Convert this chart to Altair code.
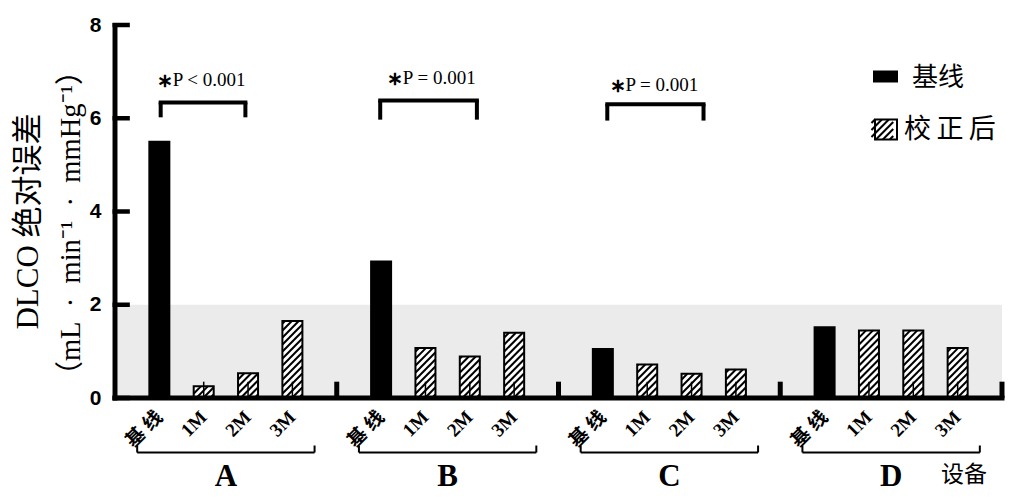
import altair as alt
import pandas as pd

# ---------------- data ----------------
groups = ["A", "B", "C", "D"]
time_labels = ["基 线", "1M", "2M", "3M"]
kinds = ["基线", "校正后", "校正后", "校正后"]
vals_A = [5.52, 0.25, 0.53, 1.65]
vals_B = [2.95, 1.07, 0.89, 1.40]
vals_C = [1.07, 0.72, 0.52, 0.61]
vals_D = [1.54, 1.45, 1.45, 1.07]
y_ticks = [0, 2, 4, 6, 8]
band = [0, 2]
err_top = 0.35
sep_height = 0.35
sig_labels = ["P < 0.001", "P = 0.001", "P = 0.001"]
sig_x1 = [1.03, 5.98, 11.10]
sig_x2 = [2.94, 8.16, 13.27]
sig_top = [6.34, 6.38, 6.30]
sig_bot = [6.02, 5.97, 5.95]
sig_tx = [0.94, 6.13, 11.15]
sig_ty = [6.81, 6.87, 6.72]
legend_labels = ["基线", "校\u2009正\u2009后"]
x_title = "设备"
y_title = ["DLCO 绝对误差", "（mL\u2002·\u2002min⁻¹\u2002·\u2002mmHg⁻¹）"]

# ---------------- layout ----------------
W, H = 897, 373
XMAX, YMAX = 20, 8
SX = W / XMAX
SY = H / YMAX
SP = 7.0
TICK_LEN = 15
TICK_W = 4.5
SERIF = "Liberation Serif, Times New Roman, Noto Sans CJK SC"
SANS = "Liberation Sans, Arial, sans-serif"
CJK = "Noto Sans CJK SC"

rows = []
for gi, vals in enumerate([vals_A, vals_B, vals_C, vals_D]):
    for i, v in enumerate(vals):
        rows.append(dict(group=groups[gi], label=time_labels[i], kind=kinds[i],
                         pos=gi * 5 + i + 1, value=v, e0=0.0, e1=err_top))
bars = pd.DataFrame(rows)
corr = bars[bars.kind != "基线"]


def hatch(xl, xr, vb, vt):
    w = xr - xl
    h = vt - vb
    segs = []
    k = -w + SP / 2
    while k < h:
        xs = max(0.0, -k)
        xe = min(w, h - k)
        if xe - xs > 0.6:
            segs.append(((xl + xs) / SX, (vb + xs + k) / SY, (xl + xe) / SX, (vb + xe + k) / SY))
        k += SP
    return segs


segs = []
for _, r in corr.iterrows():
    cx = r.pos * SX
    segs += hatch(cx - 10, cx + 10, 0, r.value * SY)
# legend hatched square (pixel box)
LGX1, LGX2, LGY1, LGY2 = 765, 787, 94.5, 114.5
segs += hatch(LGX1, LGX2, H - LGY2, H - LGY1)
hatch_df = pd.DataFrame(segs, columns=["x", "y", "x2", "y2"])

# tick rectangles (derived from tick values)
tick_df = pd.DataFrame({
    "x0": [-2.5 / SX] * len(y_ticks),
    "x1": [TICK_LEN / SX] * len(y_ticks),
    "y0": [t - TICK_W / 2 / SY for t in y_ticks],
    "y1": [t + TICK_W / 2 / SY for t in y_ticks],
})

XS = alt.Scale(domain=[0, XMAX], nice=False, zero=False)
YS = alt.Scale(domain=[0, YMAX], nice=False, zero=True)
YAX = alt.Axis(values=y_ticks, title=None, domain=False, ticks=False, grid=False,
               labelFont=SANS, labelFontWeight="bold", labelFontSize=21,
               labelColor="black", labelPadding=9)


def X(f):
    return alt.X(f, scale=XS, axis=None)


def Y(f):
    return alt.Y(f, scale=YS, axis=YAX)


one = pd.DataFrame({"k": [0]})

band_layer = alt.Chart(pd.DataFrame({"x": [0], "x2": [XMAX], "y": [band[0]], "y2": [band[1]]})).mark_rect(
    color="#ebebeb").encode(x=X("x:Q"), x2="x2:Q", y=Y("y:Q"), y2="y2:Q")

base_bars = alt.Chart(bars[bars.kind == "基线"]).mark_bar(color="black", size=22).encode(
    x=X("pos:Q"), y=Y("value:Q"))

corr_bars = alt.Chart(corr).mark_bar(fill="white", stroke="black", strokeWidth=2, size=20).encode(
    x=X("pos:Q"), y=Y("value:Q"))

leg_box = alt.Chart(one).mark_rect(fill="white", stroke="black", strokeWidth=2).encode(
    x=alt.value(LGX1), x2=alt.value(LGX2), y=alt.value(LGY1), y2=alt.value(LGY2))

hatch_layer = alt.Chart(hatch_df).mark_rule(color="black", strokeWidth=2).encode(
    x=X("x:Q"), y=Y("y:Q"), x2="x2:Q", y2="y2:Q")

err_layer = alt.Chart(corr).mark_rule(color="black", strokeWidth=1.5).encode(
    x=X("pos:Q"), y=Y("e0:Q"), y2="e1:Q")

sep_layer = alt.Chart(pd.DataFrame({"x": [5, 10, 15, 20], "y": [0] * 4, "y2": [sep_height] * 4})).mark_rule(
    color="black", strokeWidth=5).encode(x=X("x:Q"), y=Y("y:Q"), y2="y2:Q")

# y axis line as a filled rect (5 px wide), x axis line as a rule
yaxis_rect = alt.Chart(pd.DataFrame({"x": [-2.5 / SX], "x2": [2.5 / SX], "y": [-2.5 / SY],
                                     "y2": [YMAX + 2 / SY]})).mark_rect(fill="black").encode(
    x=X("x:Q"), x2="x2:Q", y=Y("y:Q"), y2="y2:Q")

xaxis_line = alt.Chart(pd.DataFrame({"x": [0], "x2": [XMAX], "y": [0]})).mark_rule(
    color="black", strokeWidth=5, strokeCap="square").encode(x=X("x:Q"), x2="x2:Q", y=Y("y:Q"))

ytick_layer = alt.Chart(tick_df).mark_rect(fill="black").encode(
    x=X("x0:Q"), x2="x1:Q", y=Y("y0:Q"), y2="y1:Q")

xlabels = alt.Chart(bars).mark_text(angle=315, align="right", baseline="middle", font=SERIF,
                                    fontWeight="bold", fontSize=19, color="black").encode(
    x=X("pos:Q"), y=alt.value(H + 16), text="label:N")

gdf = pd.DataFrame({"group": groups,
                    "start": [gi * 5 + 0.5 for gi in range(4)],
                    "end": [gi * 5 + 4.5 for gi in range(4)],
                    "mid": [gi * 5 + 2.5 for gi in range(4)]})
gbr_h = alt.Chart(gdf).mark_rule(color="black", strokeWidth=2).encode(
    x=X("start:Q"), x2="end:Q", y=alt.value(H + 54.5))
gbr_v = alt.Chart(gdf).transform_fold(["start", "end"]).mark_rule(color="black", strokeWidth=2).encode(
    x=X("value:Q"), y=alt.value(H + 47.5), y2=alt.value(H + 54.5))
gletters = alt.Chart(gdf).mark_text(font=SERIF, fontWeight="bold", fontSize=31, color="black",
                                    baseline="middle").encode(
    x=X("mid:Q"), y=alt.value(H + 79), text="group:N")
xtitle = alt.Chart(one).mark_text(text=x_title, font=CJK, fontSize=23, color="black",
                                  baseline="middle").encode(x=alt.value(854), y=alt.value(H + 77))

sdf = pd.DataFrame({"x1": sig_x1, "x2": sig_x2, "top": sig_top, "bot": sig_bot,
                    "tx": sig_tx, "ty": sig_ty, "label": sig_labels})
sig_h = alt.Chart(sdf).mark_rule(color="black", strokeWidth=4, strokeCap="square").encode(
    x=X("x1:Q"), x2="x2:Q", y=Y("top:Q"))
sig_v = alt.Chart(sdf).transform_fold(["x1", "x2"], as_=["which", "xv"]).mark_rule(
    color="black", strokeWidth=4).encode(x=X("xv:Q"), y=Y("bot:Q"), y2="top:Q")
sig_star = alt.Chart(sdf).mark_text(text="∗", font=SERIF, fontWeight="bold", fontSize=19,
                                    align="left", baseline="middle", color="black", dy=1).encode(
    x=X("tx:Q"), y=Y("ty:Q"))
sig_text = alt.Chart(sdf).mark_text(font=SERIF, fontSize=19, align="left", baseline="middle",
                                    dx=16, color="black").encode(
    x=X("tx:Q"), y=Y("ty:Q"), text="label:N")

leg_black = alt.Chart(one).mark_rect(color="black").encode(
    x=alt.value(763), x2=alt.value(788), y=alt.value(45.5), y2=alt.value(57.5))
leg_t1 = alt.Chart(one).mark_text(text=legend_labels[0], font=CJK, fontSize=26, align="left",
                                  baseline="middle", color="black").encode(x=alt.value(802), y=alt.value(52.5))
leg_t2 = alt.Chart(one).mark_text(text=legend_labels[1], font=CJK, fontSize=27, align="left",
                                  baseline="middle", color="black").encode(x=alt.value(794), y=alt.value(104.5))

yt1 = alt.Chart(one).mark_text(text=y_title[0], font=SERIF, fontSize=31, angle=270, align="center",
                               baseline="alphabetic", color="black").encode(x=alt.value(-72), y=alt.value(196.5))
yt2 = alt.Chart(one).mark_text(text=y_title[1], font=SERIF, fontSize=28.5, angle=270, align="center",
                               baseline="alphabetic", color="black").encode(x=alt.value(-30), y=alt.value(198))

chart = alt.layer(
    band_layer, base_bars, corr_bars, leg_box, hatch_layer, err_layer, sep_layer,
    xaxis_line, xlabels, gbr_h, gbr_v, gletters, xtitle,
    sig_h, sig_v, sig_star, sig_text, leg_black, leg_t1, leg_t2, yt1, yt2,
    yaxis_rect, ytick_layer,
).properties(
    width=W, height=H,
    padding={"left": 102, "top": 17, "right": 3, "bottom": 95},
    autosize=alt.AutoSizeParams(type="none"),
    background="white",
).configure_view(stroke=None)

chart.save("out.html", embed_options={"renderer": "svg", "actions": False})
